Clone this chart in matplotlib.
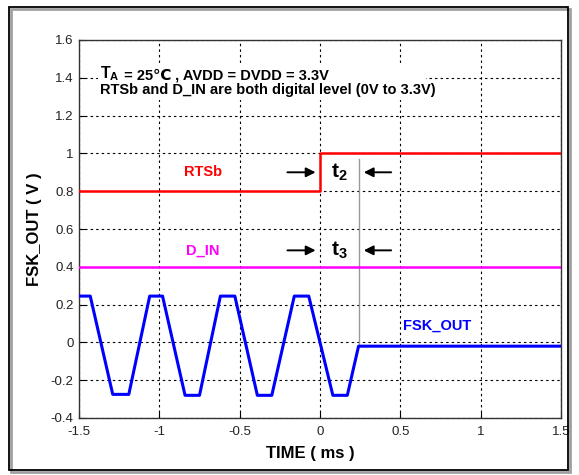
import matplotlib
matplotlib.use("Agg")
import matplotlib.pyplot as plt
from matplotlib.patches import Rectangle

plt.rcParams['font.family'] = ['Liberation Sans', 'DejaVu Sans']
plt.rcParams['mathtext.fontset'] = 'custom'
plt.rcParams['mathtext.rm'] = 'Liberation Sans:bold'
plt.rcParams['mathtext.bf'] = 'Liberation Sans:bold'
plt.rcParams['mathtext.it'] = 'Liberation Sans:bold'

# ---- data ----
fsk_t = [-1.5, -1.43, -1.29, -1.19, -1.06, -0.98, -0.84, -0.75, -0.62, -0.53,
         -0.39, -0.30, -0.16, -0.07, 0.08, 0.17, 0.24, 1.5]
fsk_v = [0.245, 0.245, -0.275, -0.275, 0.245, 0.245, -0.28, -0.28, 0.245, 0.245,
         -0.28, -0.28, 0.245, 0.245, -0.28, -0.28, -0.02, -0.02]
rts_t = [-1.5, 0.0, 0.0, 1.5]
rts_v = [0.8, 0.8, 1.0, 1.0]
din_t = [-1.5, 1.5]
din_v = [0.4, 0.4]
t_edge = 0.0
t_settle = 0.245

xticks = [-1.5, -1, -0.5, 0, 0.5, 1, 1.5]
xticklabels = ['-1.5', '-1', '-0.5', '0', '0.5', '1', '1.5']
yticks = [-0.4, -0.2, 0, 0.2, 0.4, 0.6, 0.8, 1, 1.2, 1.4, 1.6]
yticklabels = ['-0.4', '-0.2', '0', '0.2', '0.4', '0.6', '0.8', '1', '1.2', '1.4', '1.6']

fig = plt.figure(figsize=(5.79, 4.75), dpi=100)
fig.patch.set_facecolor('white')
# outer frame
fig.patches.append(Rectangle((11/579, 1-472/475), 559/579, 463/475, transform=fig.transFigure,
                             facecolor='none', edgecolor='#a0a0a0', lw=2.0, zorder=0))
fig.patches.append(Rectangle((9/579, 1-470/475), 559/579, 463/475, transform=fig.transFigure,
                             facecolor='none', edgecolor='black', lw=1.3, zorder=1))

ax = fig.add_axes([79/579, 1-418/475, 482/579, 378/475])
ax.set_xlim(-1.5, 1.5)
ax.set_ylim(-0.4, 1.6)
ax.set_xticks(xticks)
ax.set_xticklabels(xticklabels)
ax.set_yticks(yticks)
ax.set_yticklabels(yticklabels)
ax.tick_params(direction='in', length=4, labelsize=9.5, colors='black', labelcolor='#222222')
ax.tick_params(axis='x', pad=6)
ax.tick_params(axis='y', pad=4)
for s in ax.spines.values():
    s.set_color('#333333')
    s.set_linewidth(1.0)
ax.grid(True, color='black', linestyle=(0, (2.2, 2.8)), linewidth=0.8)
ax.set_axisbelow(True)

ax.plot(fsk_t, fsk_v, color='#0000ff', lw=2.2, zorder=3)
ax.plot(rts_t, rts_v, color='#ff0000', lw=1.8, zorder=3)
ax.plot(din_t, din_v, color='#ff00ff', lw=1.8, zorder=3)
ax.plot([t_settle, t_settle], [0.97, -0.02], color='#999999', lw=1.0, zorder=2)

ax.set_xlabel('TIME ( ms )', fontsize=12, fontweight='bold', labelpad=3)
ax.xaxis.set_label_coords(0.48, -0.073)
ax.set_ylabel('FSK_OUT ( V )', fontsize=12, fontweight='bold', labelpad=6)

# text box
ax.add_patch(Rectangle((-1.38, 1.28), 2.04, 0.18, facecolor='white', edgecolor='none', zorder=2))
t1 = ax.text(-1.37, 1.40, r'$\mathbf{T_A}$', fontsize=11.5, va='baseline', ha='left', zorder=4)
t_a = ax.annotate(' = 25', xy=(1, 0), xycoords=t1, va='bottom', ha='left', fontsize=10.5,
                  fontweight='bold', zorder=4, annotation_clip=False)
t_c = ax.annotate('\u2103', xy=(1, 0), xycoords=t_a, va='bottom', ha='left', fontsize=11,
                  fontweight='bold', family='DejaVu Sans', zorder=4, annotation_clip=False)
ax.annotate(' , AVDD = DVDD = 3.3V', xy=(1, 0), xycoords=t_c, va='bottom', ha='left',
            fontsize=10.5, fontweight='bold', zorder=4, annotation_clip=False)
ax.text(-1.37, 1.335, 'RTSb and D_IN are both digital level (0V to 3.3V)', fontsize=10.5,
        fontweight='bold', va='center', ha='left', zorder=4)

ax.text(-0.73, 0.9, 'RTSb', color='#ff0000', fontsize=10.5, fontweight='bold', ha='center', va='center')
ax.text(-0.73, 0.487, 'D_IN', color='#ff00ff', fontsize=10.5, fontweight='bold', ha='center', va='center')
ax.text(0.73, 0.09, 'FSK_OUT', color='#0000ff', fontsize=10.5, fontweight='bold', ha='center', va='center')

for y, lab in [(0.9, r'$\mathbf{t_2}$'), (0.487, r'$\mathbf{t_3}$')]:
    ax.annotate('', xy=(t_edge - 0.01, y), xytext=(-0.22, y),
                arrowprops=dict(arrowstyle='-|>', color='black', lw=1.4, mutation_scale=14), zorder=4)
    ax.annotate('', xy=(t_settle + 0.01, y), xytext=(0.46, y),
                arrowprops=dict(arrowstyle='-|>', color='black', lw=1.4, mutation_scale=14), zorder=4)
    ax.text(0.12, y, lab, fontsize=15, ha='center', va='center', zorder=4)

fig.savefig('out.png', dpi=100)
